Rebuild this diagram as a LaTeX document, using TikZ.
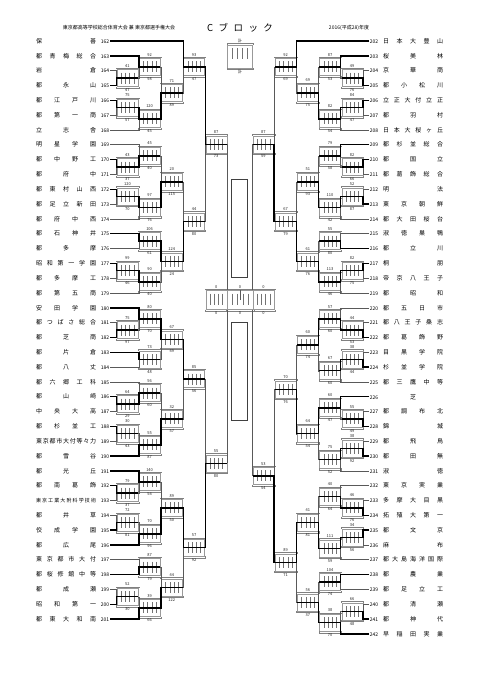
\documentclass[tikz,border=0pt]{standalone}
\usepackage{fontspec}
\usetikzlibrary{calc}
\newfontfamily\jp{Noto Sans CJK JP}
\newcommand{\no}[1]{\makebox[8pt][c]{\fontsize{5}{5}\selectfont#1}}
\makeatletter
\def\spr#1{\makebox[60pt][s]{\spr@#1\relax}}
\def\spr@#1#2{#1\ifx\relax#2\expandafter\@gobble\else\hfill\fi\spr@#2}
\makeatother

\begin{document}
\begin{tikzpicture}[x=1pt, y=-1pt, font=\jp,
    tm/.style={inner xsep=0.8pt, inner ysep=0.5pt, font=\jp\fontsize{6}{6}\selectfont},
    brkt/.style={draw=black!50, line width=0.3pt, to path={-- ++(0,1.3pt) -| (\tikztotarget)}},
    brkb/.style={draw=black!50, line width=0.3pt, to path={-- ++(0,-1.3pt) -| (\tikztotarget)}},
    game/.style={draw=black!40, line width=0.4pt, minimum width=21pt, minimum height=17pt, inner sep=0pt,
      path picture={\foreach \k in {1,...,4}{\draw[black!55, line width=0.3pt]
        ($(path picture bounding box.north west)!\k/5!(path picture bounding box.north east)+(0,-3pt)$) -- ++(0,-11pt);}},
      append after command={
        ([xshift=-0.6pt]\tikzlastnode.north west) edge[brkt] ([xshift=0.6pt]\tikzlastnode.north east)
        ([xshift=-0.6pt]\tikzlastnode.south west) edge[brkb] ([xshift=0.6pt]\tikzlastnode.south east)}},
    gl/.style={game, anchor=west},
    gr/.style={game, anchor=east},
    every label/.style={font=\jp\fontsize{4}{4}\selectfont, inner sep=0.2pt, text=black!85},
    label distance=1.7pt,
    tl/.style={black!65, line width=0.5pt},
    win/.style={black, line width=1.4pt}]
    \useasboundingbox (0,0) rectangle (481,680);

    % header
    \node[font=\jp\fontsize{5}{5}\selectfont] (hdl) at (119,28) {東京都高等学校総合体育大会 兼 東京都選手権大会};
    \node[font=\jp\fontsize{9.5}{9.5}\selectfont] (hdc) at (240,28) {\makebox[66pt][s]{C\hfill ブ\hfill ロ\hfill ッ\hfill ク}};
    \node[font=\jp\fontsize{5}{5}\selectfont] (hdr) at (349,28) {2016(平成28)年度};

    % left teams
    \node[tm, anchor=east] (t162) at (110,41.0) {\spr{保善}\hspace{5pt}\no{162}};
    \node[tm, anchor=east] (t163) at (110,55.8) {\spr{都青梅総合}\hspace{5pt}\no{163}};
    \node[tm, anchor=east] (t164) at (110,70.6) {\spr{岩倉}\hspace{5pt}\no{164}};
    \node[tm, anchor=east] (t165) at (110,85.5) {\spr{都永山}\hspace{5pt}\no{165}};
    \node[tm, anchor=east] (t166) at (110,100.3) {\spr{都江戸川}\hspace{5pt}\no{166}};
    \node[tm, anchor=east] (t167) at (110,115.1) {\spr{都第一商}\hspace{5pt}\no{167}};
    \node[tm, anchor=east] (t168) at (110,129.9) {\spr{立志舎}\hspace{5pt}\no{168}};
    \node[tm, anchor=east] (t169) at (110,144.7) {\spr{明星学園}\hspace{5pt}\no{169}};
    \node[tm, anchor=east] (t170) at (110,159.6) {\spr{都中野工}\hspace{5pt}\no{170}};
    \node[tm, anchor=east] (t171) at (110,174.4) {\spr{都府中}\hspace{5pt}\no{171}};
    \node[tm, anchor=east] (t172) at (110,189.2) {\spr{都東村山西}\hspace{5pt}\no{172}};
    \node[tm, anchor=east] (t173) at (110,204.0) {\spr{都足立新田}\hspace{5pt}\no{173}};
    \node[tm, anchor=east] (t174) at (110,218.8) {\spr{都府中西}\hspace{5pt}\no{174}};
    \node[tm, anchor=east] (t175) at (110,233.7) {\spr{都石神井}\hspace{5pt}\no{175}};
    \node[tm, anchor=east] (t176) at (110,248.5) {\spr{都多摩}\hspace{5pt}\no{176}};
    \node[tm, anchor=east] (t177) at (110,263.3) {\spr{昭和第一学園}\hspace{5pt}\no{177}};
    \node[tm, anchor=east] (t178) at (110,278.1) {\spr{都多摩工}\hspace{5pt}\no{178}};
    \node[tm, anchor=east] (t179) at (110,292.9) {\spr{都第五商}\hspace{5pt}\no{179}};
    \node[tm, anchor=east] (t180) at (110,307.8) {\spr{安田学園}\hspace{5pt}\no{180}};
    \node[tm, anchor=east] (t181) at (110,322.6) {\spr{都つばさ総合}\hspace{5pt}\no{181}};
    \node[tm, anchor=east] (t182) at (110,337.4) {\spr{都芝商}\hspace{5pt}\no{182}};
    \node[tm, anchor=east] (t183) at (110,352.2) {\spr{都片倉}\hspace{5pt}\no{183}};
    \node[tm, anchor=east] (t184) at (110,367.0) {\spr{都八丈}\hspace{5pt}\no{184}};
    \node[tm, anchor=east] (t185) at (110,381.9) {\spr{都六郷工科}\hspace{5pt}\no{185}};
    \node[tm, anchor=east] (t186) at (110,396.7) {\spr{都山崎}\hspace{5pt}\no{186}};
    \node[tm, anchor=east] (t187) at (110,411.5) {\spr{中央大高}\hspace{5pt}\no{187}};
    \node[tm, anchor=east] (t188) at (110,426.3) {\spr{都杉並工}\hspace{5pt}\no{188}};
    \node[tm, anchor=east] (t189) at (110,441.1) {\spr{東京都市大付等々力}\hspace{5pt}\no{189}};
    \node[tm, anchor=east] (t190) at (110,456.0) {\spr{都雪谷}\hspace{5pt}\no{190}};
    \node[tm, anchor=east] (t191) at (110,470.8) {\spr{都光丘}\hspace{5pt}\no{191}};
    \node[tm, anchor=east] (t192) at (110,485.6) {\spr{都南葛飾}\hspace{5pt}\no{192}};
    \node[tm, anchor=east] (t193) at (110,500.4) {{\fontsize{5}{5}\selectfont\spr{東京工業大附科学技術}}\hspace{5pt}\no{193}};
    \node[tm, anchor=east] (t194) at (110,515.2) {\spr{都井草}\hspace{5pt}\no{194}};
    \node[tm, anchor=east] (t195) at (110,530.1) {\spr{佼成学園}\hspace{5pt}\no{195}};
    \node[tm, anchor=east] (t196) at (110,544.9) {\spr{都広尾}\hspace{5pt}\no{196}};
    \node[tm, anchor=east] (t197) at (110,559.7) {\spr{東京都市大付}\hspace{5pt}\no{197}};
    \node[tm, anchor=east] (t198) at (110,574.5) {\spr{都桜修館中等}\hspace{5pt}\no{198}};
    \node[tm, anchor=east] (t199) at (110,589.3) {\spr{都成瀬}\hspace{5pt}\no{199}};
    \node[tm, anchor=east] (t200) at (110,604.2) {\spr{昭和第一}\hspace{5pt}\no{200}};
    \node[tm, anchor=east] (t201) at (110,619.0) {\spr{都東大和南}\hspace{5pt}\no{201}};

    % right teams
    \node[tm, anchor=west] (t202) at (369,41.0) {\no{202}\hspace{5pt}\spr{日本大豊山}};
    \node[tm, anchor=west] (t203) at (369,55.8) {\no{203}\hspace{5pt}\spr{桜美林}};
    \node[tm, anchor=west] (t204) at (369,70.6) {\no{204}\hspace{5pt}\spr{京華商}};
    \node[tm, anchor=west] (t205) at (369,85.5) {\no{205}\hspace{5pt}\spr{都小松川}};
    \node[tm, anchor=west] (t206) at (369,100.3) {\no{206}\hspace{5pt}\spr{立正大付立正}};
    \node[tm, anchor=west] (t207) at (369,115.1) {\no{207}\hspace{5pt}\spr{都羽村}};
    \node[tm, anchor=west] (t208) at (369,129.9) {\no{208}\hspace{5pt}\spr{日本大桜ヶ丘}};
    \node[tm, anchor=west] (t209) at (369,144.7) {\no{209}\hspace{5pt}\spr{都杉並総合}};
    \node[tm, anchor=west] (t210) at (369,159.6) {\no{210}\hspace{5pt}\spr{都国立}};
    \node[tm, anchor=west] (t211) at (369,174.4) {\no{211}\hspace{5pt}\spr{都葛飾総合}};
    \node[tm, anchor=west] (t212) at (369,189.2) {\no{212}\hspace{5pt}\spr{明法}};
    \node[tm, anchor=west] (t213) at (369,204.0) {\no{213}\hspace{5pt}\spr{東京朝鮮}};
    \node[tm, anchor=west] (t214) at (369,218.8) {\no{214}\hspace{5pt}\spr{都大田桜台}};
    \node[tm, anchor=west] (t215) at (369,233.7) {\no{215}\hspace{5pt}\spr{淑徳巣鴨}};
    \node[tm, anchor=west] (t216) at (369,248.5) {\no{216}\hspace{5pt}\spr{都立川}};
    \node[tm, anchor=west] (t217) at (369,263.3) {\no{217}\hspace{5pt}\spr{桐朋}};
    \node[tm, anchor=west] (t218) at (369,278.1) {\no{218}\hspace{5pt}\spr{帝京八王子}};
    \node[tm, anchor=west] (t219) at (369,292.9) {\no{219}\hspace{5pt}\spr{都昭和}};
    \node[tm, anchor=west] (t220) at (369,307.8) {\no{220}\hspace{5pt}\spr{都五日市}};
    \node[tm, anchor=west] (t221) at (369,322.6) {\no{221}\hspace{5pt}\spr{都八王子桑志}};
    \node[tm, anchor=west] (t222) at (369,337.4) {\no{222}\hspace{5pt}\spr{都葛飾野}};
    \node[tm, anchor=west] (t223) at (369,352.2) {\no{223}\hspace{5pt}\spr{目黒学院}};
    \node[tm, anchor=west] (t224) at (369,367.0) {\no{224}\hspace{5pt}\spr{杉並学院}};
    \node[tm, anchor=west] (t225) at (369,381.9) {\no{225}\hspace{5pt}\spr{都三鷹中等}};
    \node[tm, anchor=west] (t226) at (369,396.7) {\no{226}\hspace{5pt}\makebox[60pt][c]{芝}};
    \node[tm, anchor=west] (t227) at (369,411.5) {\no{227}\hspace{5pt}\spr{都調布北}};
    \node[tm, anchor=west] (t228) at (369,426.3) {\no{228}\hspace{5pt}\spr{錦城}};
    \node[tm, anchor=west] (t229) at (369,441.1) {\no{229}\hspace{5pt}\spr{都飛鳥}};
    \node[tm, anchor=west] (t230) at (369,456.0) {\no{230}\hspace{5pt}\spr{都田無}};
    \node[tm, anchor=west] (t231) at (369,470.8) {\no{231}\hspace{5pt}\spr{淑徳}};
    \node[tm, anchor=west] (t232) at (369,485.6) {\no{232}\hspace{5pt}\spr{東京実業}};
    \node[tm, anchor=west] (t233) at (369,500.4) {\no{233}\hspace{5pt}\spr{多摩大目黒}};
    \node[tm, anchor=west] (t234) at (369,515.2) {\no{234}\hspace{5pt}\spr{拓殖大第一}};
    \node[tm, anchor=west] (t235) at (369,530.1) {\no{235}\hspace{5pt}\spr{都文京}};
    \node[tm, anchor=west] (t236) at (369,544.9) {\no{236}\hspace{5pt}\spr{麻布}};
    \node[tm, anchor=west] (t237) at (369,559.7) {\no{237}\hspace{5pt}\spr{都大島海洋国際}};
    \node[tm, anchor=west] (t238) at (369,574.5) {\no{238}\hspace{5pt}\spr{都農業}};
    \node[tm, anchor=west] (t239) at (369,589.3) {\no{239}\hspace{5pt}\spr{都足立工}};
    \node[tm, anchor=west] (t240) at (369,604.2) {\no{240}\hspace{5pt}\spr{都清瀬}};
    \node[tm, anchor=west] (t241) at (369,619.0) {\no{241}\hspace{5pt}\spr{都神代}};
    \node[tm, anchor=west] (t242) at (369,633.8) {\no{242}\hspace{5pt}\spr{早稲田実業}};

    % left games
    \node[gl, label=above:41, label=below:47] (L1a) at (116.7,78.05) {};
    \node[gl, label=above:92, label=below:98] (L2a) at (138.9,66.9) {};
    \node[gl, label=above:75, label=below:57] (L1b) at (116.7,107.7) {};
    \node[gl, label=above:120, label=below:45] (L2b) at (138.9,118.8) {};
    \node[gl, label=above:71, label=below:89] (L3a) at (161.1,92.85) {};
    \node[gl, label=above:93, label=below:47] (L4a) at (183.3,66.9) {};
    \node[gl, label=above:43, label=below:37] (L1c) at (116.7,167.0) {};
    \node[gl, label=above:45, label=below:40] (L2c) at (138.9,155.85) {};
    \node[gl, label=above:120, label=below:70] (L1d) at (116.7,196.6) {};
    \node[gl, label=above:97, label=below:76] (L2d) at (138.9,207.7) {};
    \node[gl, label=above:20, label=below:115] (L3b) at (161.1,181.8) {};
    \node[gl, label=above:106, label=below:61] (L2e) at (138.9,241.1) {};
    \node[gl, label=above:99, label=below:46] (L1e) at (116.7,270.7) {};
    \node[gl, label=above:90, label=below:40] (L2f) at (138.9,281.8) {};
    \node[gl, label=above:124, label=below:24] (L3c) at (161.1,261.45) {};
    \node[gl, label=above:44, label=below:80] (L4b) at (183.3,221.6) {};
    \node[gl, label=above:87, label=below:73] (L5a) at (205.5,144.25) {};
    \node[gl, label=above:75, label=below:97] (L1f) at (116.7,330.0) {};
    \node[gl, label=above:80, label=below:70] (L2g) at (138.9,318.9) {};
    \node[gl, label=above:73, label=below:48] (L2h) at (138.9,359.6) {};
    \node[gl, label=above:67, label=below:49] (L3d) at (161.1,339.25) {};
    \node[gl, label=above:64, label=below:29] (L1g) at (116.7,404.1) {};
    \node[gl, label=above:56, label=below:60] (L2i) at (138.9,393.0) {};
    \node[gl, label=above:30, label=below:43] (L1h) at (116.7,433.7) {};
    \node[gl, label=above:55, label=below:87] (L2j) at (138.9,444.85) {};
    \node[gl, label=above:32, label=below:57] (L3e) at (161.1,418.9) {};
    \node[gl, label=above:85, label=below:56] (L4c) at (183.3,379.1) {};
    \node[gl, label=above:79, label=below:37] (L1i) at (116.7,493.0) {};
    \node[gl, label=above:140, label=below:54] (L2k) at (138.9,481.9) {};
    \node[gl, label=above:72, label=below:81] (L1j) at (116.7,522.65) {};
    \node[gl, label=above:70, label=below:96] (L2l) at (138.9,533.8) {};
    \node[gl, label=above:89, label=below:50] (L3f) at (161.1,507.85) {};
    \node[gl, label=above:87, label=below:79] (L2m) at (138.9,567.1) {};
    \node[gl, label=above:52, label=below:30] (L1k) at (116.7,596.75) {};
    \node[gl, label=above:39, label=below:66] (L2n) at (138.9,607.9) {};
    \node[gl, label=above:44, label=below:122] (L3g) at (161.1,587.5) {};
    \node[gl, label=above:57, label=below:92] (L4d) at (183.3,547.7) {};
    \node[gl, label=above:55, label=below:80] (L5b) at (205.5,463.4) {};

    % right games
    \node[gr, label=above:49, label=below:76] (R1a) at (362.9,78.05) {};
    \node[gr, label=above:87, label=below:53] (R2a) at (340.7,66.9) {};
    \node[gr, label=above:84, label=below:47] (R1b) at (362.9,107.7) {};
    \node[gr, label=above:82, label=below:54] (R2b) at (340.7,118.8) {};
    \node[gr, label=above:69, label=below:75] (R3a) at (318.5,92.85) {};
    \node[gr, label=above:92, label=below:69] (R4a) at (296.3,66.9) {};
    \node[gr, label=above:82, label=below:66] (R1c) at (362.9,167.0) {};
    \node[gr, label=above:79, label=below:58] (R2c) at (340.7,155.85) {};
    \node[gr, label=above:52, label=below:87] (R1d) at (362.9,196.6) {};
    \node[gr, label=above:110, label=below:42] (R2d) at (340.7,207.7) {};
    \node[gr, label=above:51, label=below:93] (R3b) at (318.5,181.8) {};
    \node[gr, label=above:55, label=below:80] (R2e) at (340.7,241.1) {};
    \node[gr, label=above:82, label=below:75] (R1e) at (362.9,270.7) {};
    \node[gr, label=above:113, label=below:46] (R2f) at (340.7,281.8) {};
    \node[gr, label=above:61, label=below:76] (R3c) at (318.5,261.45) {};
    \node[gr, label=above:67, label=below:79] (R4b) at (296.3,221.6) {};
    \node[gr, label=above:87, label=below:59] (R5a) at (274.1,144.25) {};
    \node[gr, label=above:44, label=below:53] (R1f) at (362.9,330.0) {};
    \node[gr, label=above:57, label=below:60] (R2g) at (340.7,318.9) {};
    \node[gr, label=above:38, label=below:44] (R1g) at (362.9,359.6) {};
    \node[gr, label=above:67, label=below:60] (R2h) at (340.7,370.75) {};
    \node[gr, label=above:60, label=below:74] (R3d) at (318.5,344.8) {};
    \node[gr, label=above:55, label=below:49] (R1h) at (362.9,418.9) {};
    \node[gr, label=above:60, label=below:47] (R2i) at (340.7,407.8) {};
    \node[gr, label=above:38, label=below:92] (R1i) at (362.9,448.55) {};
    \node[gr, label=above:75, label=below:52] (R2j) at (340.7,459.7) {};
    \node[gr, label=above:64, label=below:54] (R3e) at (318.5,433.75) {};
    \node[gr, label=above:70, label=below:76] (R4c) at (296.3,389.3) {};
    \node[gr, label=above:46, label=below:76] (R1j) at (362.9,507.8) {};
    \node[gr, label=above:40, label=below:64] (R2k) at (340.7,496.7) {};
    \node[gr, label=above:34, label=below:56] (R1k) at (362.9,537.5) {};
    \node[gr, label=above:111, label=below:59] (R2l) at (340.7,548.6) {};
    \node[gr, label=above:41, label=below:81] (R3f) at (318.5,522.65) {};
    \node[gr, label=above:104, label=below:74] (R2m) at (340.7,581.9) {};
    \node[gr, label=above:66, label=below:48] (R1l) at (362.9,611.6) {};
    \node[gr, label=above:38, label=below:70] (R2n) at (340.7,622.7) {};
    \node[gr, label=above:56, label=below:37] (R3g) at (318.5,602.3) {};
    \node[gr, label=above:89, label=below:71] (R4d) at (296.3,562.5) {};
    \node[gr, label=above:53, label=below:54] (R5b) at (274.1,475.9) {};

    % centre
    \node[gl, minimum height=19pt, label=above:0, label=below:0] (Lsf) at (205.5,300) {};
    \node[gl, minimum width=26.6pt, minimum height=19pt, label=above:0, label=below:0] (fin) at (226.5,300) {};
    \node[gr, minimum height=19pt, label=above:0, label=below:0] (Rsf) at (274.1,300) {};
    \node[gl, minimum width=25pt, minimum height=23pt, label=above:計, label=below:計] (key) at (227.3,56.3) {};
    \draw[black!75, line width=0.9pt] (231.7,179.3) rectangle (247.7,277.7);
    \draw[black!75, line width=0.9pt] (231.7,322.3) rectangle (247.7,420.7);
    \draw[tl] (fin.center) -- (fin.north);

    % left brackets
    \draw[tl] (t164.east) -| (L1a.west) |- (t165.east);
    \draw[tl] (t163.east) -| (L2a.west) |- (L1a.east);
    \draw[tl] (t166.east) -| (L1b.west) |- (t167.east);
    \draw[tl] (L1b.east) -| (L2b.west) |- (t168.east);
    \draw[tl] (L2a.east) -| (L3a.west) |- (L2b.east);
    \draw[tl] (t162.east) -| (L4a.west) |- (L3a.east);
    \draw[tl] (t170.east) -| (L1c.west) |- (t171.east);
    \draw[tl] (t169.east) -| (L2c.west) |- (L1c.east);
    \draw[tl] (t172.east) -| (L1d.west) |- (t173.east);
    \draw[tl] (L1d.east) -| (L2d.west) |- (t174.east);
    \draw[tl] (L2c.east) -| (L3b.west) |- (L2d.east);
    \draw[tl] (t175.east) -| (L2e.west) |- (t176.east);
    \draw[tl] (t177.east) -| (L1e.west) |- (t178.east);
    \draw[tl] (L1e.east) -| (L2f.west) |- (t179.east);
    \draw[tl] (L2e.east) -| (L3c.west) |- (L2f.east);
    \draw[tl] (L3b.east) -| (L4b.west) |- (L3c.east);
    \draw[tl] (L4a.east) -| (L5a.west) |- (L4b.east);
    \draw[tl] (t181.east) -| (L1f.west) |- (t182.east);
    \draw[tl] (t180.east) -| (L2g.west) |- (L1f.east);
    \draw[tl] (t183.east) -| (L2h.west) |- (t184.east);
    \draw[tl] (L2g.east) -| (L3d.west) |- (L2h.east);
    \draw[tl] (t186.east) -| (L1g.west) |- (t187.east);
    \draw[tl] (t185.east) -| (L2i.west) |- (L1g.east);
    \draw[tl] (t188.east) -| (L1h.west) |- (t189.east);
    \draw[tl] (L1h.east) -| (L2j.west) |- (t190.east);
    \draw[tl] (L2i.east) -| (L3e.west) |- (L2j.east);
    \draw[tl] (L3d.east) -| (L4c.west) |- (L3e.east);
    \draw[tl] (t192.east) -| (L1i.west) |- (t193.east);
    \draw[tl] (t191.east) -| (L2k.west) |- (L1i.east);
    \draw[tl] (t194.east) -| (L1j.west) |- (t195.east);
    \draw[tl] (L1j.east) -| (L2l.west) |- (t196.east);
    \draw[tl] (L2k.east) -| (L3f.west) |- (L2l.east);
    \draw[tl] (t197.east) -| (L2m.west) |- (t198.east);
    \draw[tl] (t199.east) -| (L1k.west) |- (t200.east);
    \draw[tl] (L1k.east) -| (L2n.west) |- (t201.east);
    \draw[tl] (L2m.east) -| (L3g.west) |- (L2n.east);
    \draw[tl] (L3f.east) -| (L4d.west) |- (L3g.east);
    \draw[tl] (L4c.east) -| (L5b.west) |- (L4d.east);
    \draw[tl] (L5a.east) -- (Lsf.north east);
    \draw[tl] (L5b.east) -- (Lsf.south east);

    % right brackets
    \draw[tl] (t204.west) -| (R1a.east) |- (t205.west);
    \draw[tl] (t203.west) -| (R2a.east) |- (R1a.west);
    \draw[tl] (t206.west) -| (R1b.east) |- (t207.west);
    \draw[tl] (R1b.west) -| (R2b.east) |- (t208.west);
    \draw[tl] (R2a.west) -| (R3a.east) |- (R2b.west);
    \draw[tl] (t202.west) -| (R4a.east) |- (R3a.west);
    \draw[tl] (t210.west) -| (R1c.east) |- (t211.west);
    \draw[tl] (t209.west) -| (R2c.east) |- (R1c.west);
    \draw[tl] (t212.west) -| (R1d.east) |- (t213.west);
    \draw[tl] (R1d.west) -| (R2d.east) |- (t214.west);
    \draw[tl] (R2c.west) -| (R3b.east) |- (R2d.west);
    \draw[tl] (t215.west) -| (R2e.east) |- (t216.west);
    \draw[tl] (t217.west) -| (R1e.east) |- (t218.west);
    \draw[tl] (R1e.west) -| (R2f.east) |- (t219.west);
    \draw[tl] (R2e.west) -| (R3c.east) |- (R2f.west);
    \draw[tl] (R3b.west) -| (R4b.east) |- (R3c.west);
    \draw[tl] (R4a.west) -| (R5a.east) |- (R4b.west);
    \draw[tl] (t221.west) -| (R1f.east) |- (t222.west);
    \draw[tl] (t220.west) -| (R2g.east) |- (R1f.west);
    \draw[tl] (t223.west) -| (R1g.east) |- (t224.west);
    \draw[tl] (R1g.west) -| (R2h.east) |- (t225.west);
    \draw[tl] (R2g.west) -| (R3d.east) |- (R2h.west);
    \draw[tl] (t227.west) -| (R1h.east) |- (t228.west);
    \draw[tl] (t226.west) -| (R2i.east) |- (R1h.west);
    \draw[tl] (t229.west) -| (R1i.east) |- (t230.west);
    \draw[tl] (R1i.west) -| (R2j.east) |- (t231.west);
    \draw[tl] (R2i.west) -| (R3e.east) |- (R2j.west);
    \draw[tl] (R3d.west) -| (R4c.east) |- (R3e.west);
    \draw[tl] (t233.west) -| (R1j.east) |- (t234.west);
    \draw[tl] (t232.west) -| (R2k.east) |- (R1j.west);
    \draw[tl] (t235.west) -| (R1k.east) |- (t236.west);
    \draw[tl] (R1k.west) -| (R2l.east) |- (t237.west);
    \draw[tl] (R2k.west) -| (R3f.east) |- (R2l.west);
    \draw[tl] (t238.west) -| (R2m.east) |- (t239.west);
    \draw[tl] (t240.west) -| (R1l.east) |- (t241.west);
    \draw[tl] (R1l.west) -| (R2n.east) |- (t242.west);
    \draw[tl] (R2m.west) -| (R3g.east) |- (R2n.west);
    \draw[tl] (R3f.west) -| (R4d.east) |- (R3g.west);
    \draw[tl] (R4c.west) -| (R5b.east) |- (R4d.west);
    \draw[tl] (R5a.west) -- (Rsf.north west);
    \draw[tl] (R5b.west) -- (Rsf.south west);

    % winners, left
    \draw[win] (t165.east) -| (L1a.west) -- (L1a.east);
    \draw[win] (t163.east) -| (L2a.west) -- (L2a.east);
    \draw[win] (t166.east) -| (L1b.west) -- (L1b.east) -| (L2b.west) -- (L2b.east) -| (L3a.west) -- (L3a.east);
    \draw[win] (t162.east) -| (L4a.west) -- (L4a.east) -| (L5a.west) -- (L5a.east);
    \draw[win] (t170.east) -| (L1c.west) -- (L1c.east) -| (L2c.west) -- (L2c.east);
    \draw[win] (t172.east) -| (L1d.west) -- (L1d.east) -| (L2d.west) -- (L2d.east) -| (L3b.west) -- (L3b.east);
    \draw[win] (t175.east) -| (L2e.west) -- (L2e.east) -| (L3c.west) -- (L3c.east) -| (L4b.west) -- (L4b.east);
    \draw[win] (t177.east) -| (L1e.west) -- (L1e.east) -| (L2f.west) -- (L2f.east);
    \draw[win] (t182.east) -| (L1f.west) -- (L1f.east);
    \draw[win] (t180.east) -| (L2g.west) -- (L2g.east) -| (L3d.west) -- (L3d.east) -| (L4c.west) -- (L4c.east);
    \draw[win] (t183.east) -| (L2h.west) -- (L2h.east);
    \draw[win] (t186.east) -| (L1g.west) -- (L1g.east) -| (L2i.west) -- (L2i.east);
    \draw[win] (t188.east) -| (L1h.west) -- (L1h.east);
    \draw[win] (t190.east) -| (L2j.west) -- (L2j.east) -| (L3e.west) -- (L3e.east);
    \draw[win] (t192.east) -| (L1i.west) -- (L1i.east);
    \draw[win] (t191.east) -| (L2k.west) -- (L2k.east);
    \draw[win] (t195.east) -| (L1j.west) -- (L1j.east);
    \draw[win] (t196.east) -| (L2l.west) -- (L2l.east) -| (L3f.west) -- (L3f.east) -| (L4d.west) -- (L4d.east) -| (L5b.west) -- (L5b.east);
    \draw[win] (t198.east) -| (L2m.west) -- (L2m.east);
    \draw[win] (t200.east) -| (L1k.west) -- (L1k.east);
    \draw[win] (t201.east) -| (L2n.west) -- (L2n.east) -| (L3g.west) -- (L3g.east);

    % winners, right
    \draw[win] (t205.west) -| (R1a.east) -- (R1a.west);
    \draw[win] (t203.west) -| (R2a.east) -- (R2a.west);
    \draw[win] (t206.west) -| (R1b.east) -- (R1b.west) -| (R2b.east) -- (R2b.west) -| (R3a.east) -- (R3a.west);
    \draw[win] (t202.west) -| (R4a.east) -- (R4a.west);
    \draw[win] (t210.west) -| (R1c.east) -- (R1c.west);
    \draw[win] (t209.west) -| (R2c.east) -- (R2c.west);
    \draw[win] (t213.west) -| (R1d.east) -- (R1d.west) -| (R2d.east) -- (R2d.west) -| (R3b.east) -- (R3b.west);
    \draw[win] (t216.west) -| (R2e.east) -- (R2e.west);
    \draw[win] (t217.west) -| (R1e.east) -- (R1e.west) -| (R2f.east) -- (R2f.west) -| (R3c.east) -- (R3c.west) -| (R4b.east) -- (R4b.west) -| (R5a.east) -- (R5a.west);
    \draw[win] (t222.west) -| (R1f.east) -- (R1f.west) -| (R2g.east) -- (R2g.west) -| (R3d.east) -- (R3d.west);
    \draw[win] (t224.west) -| (R1g.east) -- (R1g.west) -| (R2h.east) -- (R2h.west);
    \draw[win] (t228.west) -| (R1h.east) -- (R1h.west);
    \draw[win] (t226.west) -| (R2i.east) -- (R2i.west) -| (R3e.east) -- (R3e.west) -| (R4c.east) -- (R4c.west);
    \draw[win] (t230.west) -| (R1i.east) -- (R1i.west) -| (R2j.east) -- (R2j.west);
    \draw[win] (t234.west) -| (R1j.east) -- (R1j.west) -| (R2k.east) -- (R2k.west);
    \draw[win] (t235.west) -| (R1k.east) -- (R1k.west) -| (R2l.east) -- (R2l.west) -| (R3f.east) -- (R3f.west) -| (R4d.east) -- (R4d.west) -| (R5b.east) -- (R5b.west);
    \draw[win] (t238.west) -| (R2m.east) -- (R2m.west);
    \draw[win] (t241.west) -| (R1l.east) -- (R1l.west);
    \draw[win] (t242.west) -| (R2n.east) -- (R2n.west) -| (R3g.east) -- (R3g.west);
\end{tikzpicture}
\end{document}
